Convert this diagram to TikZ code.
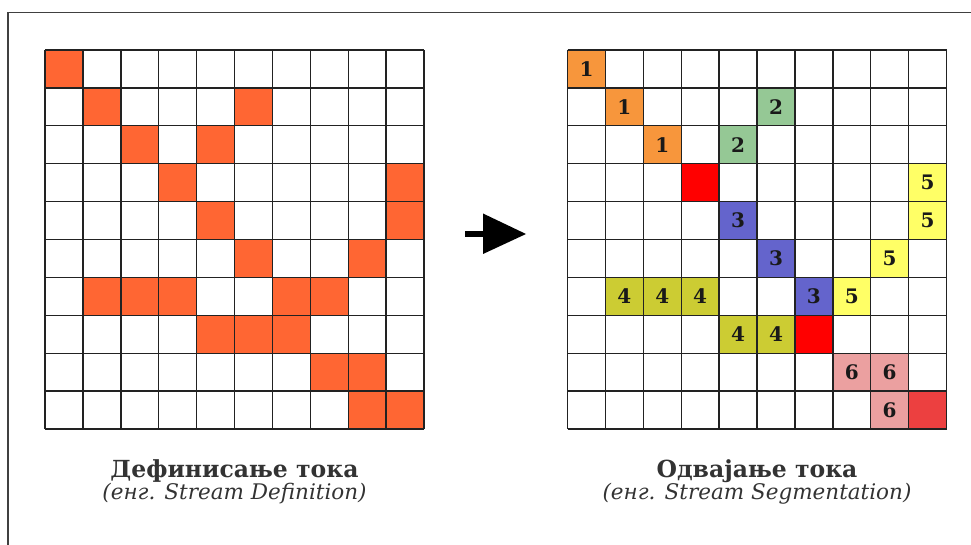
\documentclass[tikz,border=0pt]{standalone}
\usepackage{fontspec}
\setmainfont{DejaVu Serif}
\definecolor{lorange}{HTML}{FF6633}
\definecolor{rorange}{HTML}{F7963C}
\definecolor{sgreen}{HTML}{95C895}
\definecolor{sred}{HTML}{FF0000}
\definecolor{sblue}{HTML}{6464CC}
\definecolor{solive}{HTML}{CCCC33}
\definecolor{syellow}{HTML}{FFFF66}
\definecolor{spink}{HTML}{EBA0A0}
\definecolor{sred2}{HTML}{EC4040}
\definecolor{txt}{HTML}{333333}
\definecolor{gridc}{HTML}{222222}
\begin{document}
\begin{tikzpicture}[x=1pt,y=-1pt,
  gridline/.style={line width=1.4pt, draw=gridc},
  cellbox/.style={minimum size=37.9pt, inner sep=0pt, outer sep=0pt, draw=none, font=\bfseries\fontsize{20}{20}\selectfont, text=black!90},
  titletext/.style={anchor=base, font=\bfseries\fontsize{23.5}{24}\selectfont, text=txt},
  subtext/.style={anchor=base, font=\itshape\fontsize{21.5}{22}\selectfont, text=txt},
  framestyle/.style={line width=1.2pt, draw=black!75}]
\useasboundingbox (0,0) rectangle (971,545);
\draw[framestyle] (8,545) -- (8,12.5) -- (971,12.5);
% left grid cells
\foreach \c/\r [count=\k] in {0/0,1/1,5/1,2/2,4/2,3/3,9/3,4/4,9/4,5/5,8/5,1/6,2/6,3/6,6/6,7/6,4/7,5/7,6/7,7/8,8/8,8/9,9/9}
  \node[cellbox, fill=lorange] (L\k) at ({45+(\c+0.5)*37.9},{50+(\r+0.5)*37.9}) {};
% right grid cells
\foreach \c/\r/\col/\n [count=\k] in {0/0/rorange/1,1/1/rorange/1,2/2/rorange/1,5/1/sgreen/2,4/2/sgreen/2,3/3/sred/{},4/4/sblue/3,5/5/sblue/3,6/6/sblue/3,9/3/syellow/5,9/4/syellow/5,8/5/syellow/5,7/6/syellow/5,1/6/solive/4,2/6/solive/4,3/6/solive/4,4/7/solive/4,5/7/solive/4,6/7/sred/{},7/8/spink/6,8/8/spink/6,8/9/spink/6,9/9/sred2/{}}
  \node[cellbox, fill=\col] (R\k) at ({567.5+(\c+0.5)*37.9},{50+(\r+0.5)*37.9}) {\n};
% grid lines
\foreach \i in {0,...,10} {
  \draw[gridline] ({45+\i*37.9},50) -- ({45+\i*37.9},429);
  \draw[gridline] (45,{50+\i*37.9}) -- (424,{50+\i*37.9});
  \draw[gridline] ({567.5+\i*37.9},50) -- ({567.5+\i*37.9},429);
  \draw[gridline] (567.5,{50+\i*37.9}) -- (946.5,{50+\i*37.9});
}
% arrow
\fill[black] (465,231) rectangle (485,237);
\fill[black] (483,213.5) -- (526,234) -- (483,254) -- cycle;
% labels
\node[titletext] (t1) at (234.5,477) {Дефинисање тока};
\node[subtext] (s1) at (234.5,499) {(енг. Stream Definition)};
\node[titletext] (t2) at (757,477) {Одвајање тока};
\node[subtext] (s2) at (757,499) {(енг. Stream Segmentation)};
\end{tikzpicture}
\end{document}
